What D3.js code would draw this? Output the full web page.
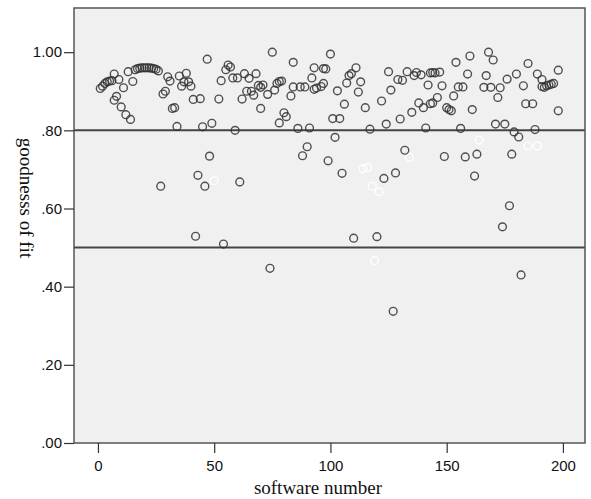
<!DOCTYPE html>
<html>
<head>
<meta charset="utf-8">
<script src="https://cdn.jsdelivr.net/npm/d3@7"></script>
<style>
  body { margin: 0; background: #fff; }
  .tick text { font-family: "Liberation Sans", Arial, sans-serif; font-size: 15px; fill: #111; }
  .tick line { stroke: #333; stroke-width: 1.2; }
  .title { font-family: "Liberation Serif", "Times New Roman", serif; font-size: 19px; fill: #111; }
</style>
</head>
<body>
<div class="chart"></div>
<script>
// software number / goodness of fit (dark markers)
const softwareNo = [
  1, 2, 3, 4, 5, 6, 7, 7, 8, 9, 10, 11, 12, 13, 14, 15,
  16, 17, 18, 19, 20, 21, 22, 23, 24, 25, 26,
  27, 28, 29, 30, 31, 32, 33, 34, 35, 36, 37, 38, 39, 40, 41, 42, 43, 44, 45, 46, 47, 48, 49,
  52, 53, 54, 55, 56, 57, 58, 59, 60, 61, 62, 63, 64, 65, 66, 67, 68, 69, 70, 70, 71, 73, 74, 75,
  76, 77, 78, 78, 79, 80, 81, 83, 84, 84, 86, 87, 88, 89, 90, 91, 92, 93, 93, 94, 96, 97, 97, 98,
  99, 100, 101, 102, 103, 104, 105, 106, 107, 108, 109, 111, 112, 113, 115, 117, 110, 120,
  122, 123, 124, 125, 126, 127, 128, 129, 130, 131, 132, 133, 135, 136, 137, 139, 138, 140, 141,
  142, 143, 144, 146, 143, 144, 145, 147,
  148, 149, 150, 151, 152, 153, 154, 155, 156, 157, 158, 159, 160, 161, 162, 163,
  166, 167, 168, 169, 170, 171, 172, 173, 174, 175, 176, 177, 178, 179, 180, 181, 182,
  183, 184, 185, 187, 188, 189, 191, 191, 192, 193, 194, 195, 196, 198, 198
];
const goodness = [
  .907, .913, .920, .924, .926, .927, .944, .877, .887, .930, .860, .909, .840, .950, .828, .925,
  .955, .958, .959, .960, .960, .960, .960, .959, .958, .956, .952,
  .657, .893, .900, .937, .926, .856, .858, .810, .939, .913, .924, .946, .924, .913, .879, .529, .685, .881, .809, .657, .982, .734, .818,
  .880, .927, .509, .955, .967, .962, .934, .800, .934, .668, .880, .945, .900, .933, .900, .890, .945, .915, .856, .910, .916, .892, .447, 1.00,
  .903, .920, .819, .925, .926, .845, .835, .888, .974, .911, .805, .911, .735, .911, .758, .806, .934, .960, .905, .908, .912, .920, .958, .957,
  .722, .995, .830, .782, .901, .830, .690, .867, .921, .940, .945, .960, .898, .924, .858, .803, .524, .528,
  .875, .677, .816, .950, .903, .337, .691, .930, .829, .928, .749, .950, .846, .940, .948, .942, .870, .858, .806,
  .916, .868, .870, .884, .947, .948, .947, .949,
  .914, .733, .858, .853, .850, .888, .974, .911, .805, .911, .732, .944, .990, .853, .683, .739,
  .910, .940, 1.00, .910, .980, .816, .884, .909, .553, .816, .931, .607, .739, .796, .944, .783, .430,
  .914, .868, .971, .868, .802, .944, .930, .912, .910, .914, .916, .918, .920, .954, .850
];
// faint (white) markers
const faintNo = [50, 114, 116, 118, 121, 119, 134, 164, 185, 189];
const faintFit = [.671, .702, .705, .657, .643, .466, .731, .775, .760, .760];

const yTicks = [0, .2, .4, .6, .8, 1.0];
const xTicks = [0, 50, 100, 150, 200];
const refLines = [.8, .5];

let width = 591, height = 499;
let frame = { left: 74, right: 585, top: 8, bottom: 443 };

let svg = d3.select('.chart')
  .append('svg')
    .attr('width', width)
    .attr('height', height);

let xScale = d3.scaleLinear()
  .domain([-10.3, 209.5])
  .range([frame.left, frame.right]);
let yScale = d3.scaleLinear()
  .domain([0, 1.113])
  .range([frame.bottom, frame.top]);

// plot background
svg.append('rect')
  .attr('x', frame.left)
  .attr('y', frame.top)
  .attr('width', frame.right - frame.left)
  .attr('height', frame.bottom - frame.top)
  .style('fill', '#f0f0f0');

// reference lines
svg.selectAll('.ref')
  .data(refLines)
  .enter()
  .append('line')
    .attr('x1', frame.left)
    .attr('x2', frame.right)
    .attr('y1', d => yScale(d))
    .attr('y2', d => yScale(d))
    .style('stroke', '#444')
    .style('stroke-width', 2);

let pts = softwareNo.map((n, i) => ({ n: n, v: goodness[i] }));
let faint = faintNo.map((n, i) => ({ n: n, v: faintFit[i] }));

svg.selectAll('.faint')
  .data(faint)
  .enter()
  .append('circle')
    .attr('cx', d => xScale(d.n))
    .attr('cy', d => yScale(d.v))
    .attr('r', 3.9)
    .style('fill', 'none')
    .style('stroke', '#fff')
    .style('stroke-width', 1.3);

svg.selectAll('.pt')
  .data(pts)
  .enter()
  .append('circle')
    .attr('cx', d => xScale(d.n))
    .attr('cy', d => yScale(d.v))
    .attr('r', 3.9)
    .style('fill', 'none')
    .style('stroke', '#333')
    .style('stroke-opacity', 0.85)
    .style('stroke-width', 1.4);

// frame
svg.append('rect')
  .attr('x', frame.left)
  .attr('y', frame.top)
  .attr('width', frame.right - frame.left)
  .attr('height', frame.bottom - frame.top)
  .style('fill', 'none')
  .style('stroke', '#555')
  .style('stroke-width', 1.5);

// axes
let yAxis = d3.axisLeft(yScale)
  .tickValues(yTicks)
  .tickSize(10)
  .tickPadding(2)
  .tickFormat(d => d3.format('.2f')(d).replace(/^0/, ''));
svg.append('g')
  .attr('transform', `translate(${frame.left}, 0)`)
  .call(yAxis)
  .call(g => g.select('.domain').remove());

let xAxis = d3.axisBottom(xScale)
  .tickValues(xTicks)
  .tickSize(10)
  .tickPadding(7);
svg.append('g')
  .attr('transform', `translate(0, ${frame.bottom})`)
  .call(xAxis)
  .call(g => g.select('.domain').remove());

// titles
svg.append('text')
  .attr('class', 'title')
  .attr('x', 318)
  .attr('y', 494)
  .attr('text-anchor', 'middle')
  .text('software number');

svg.append('text')
  .attr('class', 'title')
  .attr('transform', 'translate(20, 198) rotate(90)')
  .attr('text-anchor', 'middle')
  .text('goodnesss of fit');
</script>
</body>
</html>
